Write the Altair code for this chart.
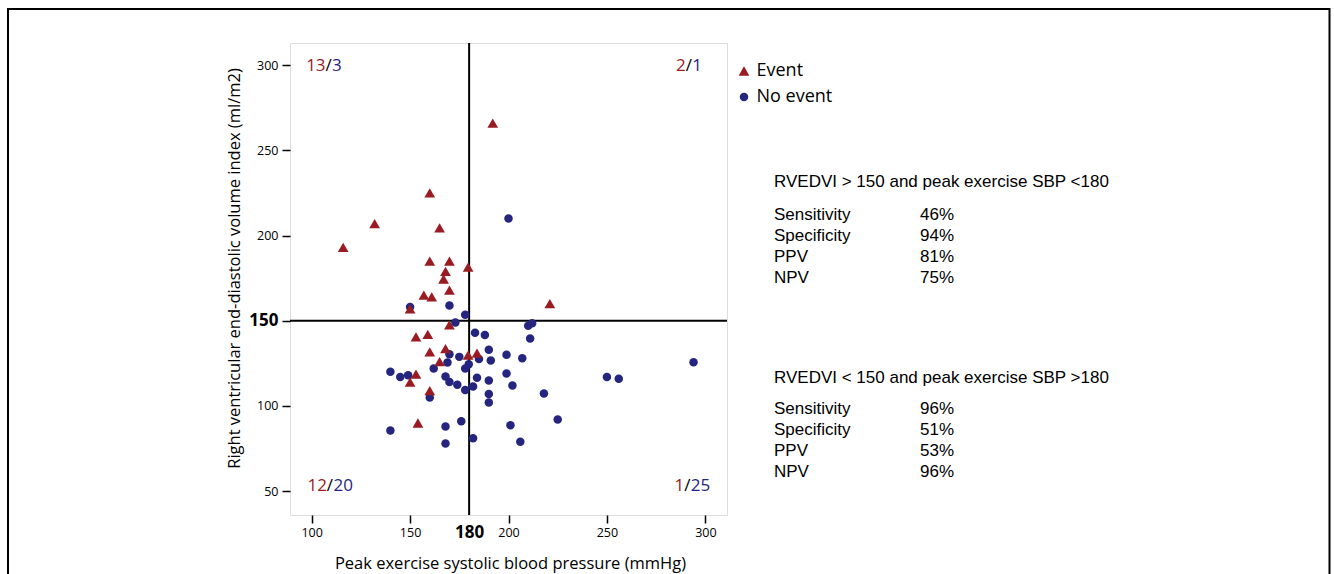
import altair as alt
import pandas as pd

# ---------------- data ----------------
event_sbp = [160, 192, 132, 165, 116, 160, 170, 179.5, 168, 167, 170, 221, 157, 161, 150,
             170, 153, 159, 160, 168, 179.5, 184, 165, 153, 150, 160, 154]
event_rvedvi = [225, 266, 207, 204.5, 193, 185, 185, 181.5, 179, 174.5, 168, 160, 165, 164, 157,
                147.6, 140.5, 142, 131.7, 133.7, 129.8, 131, 126, 118.7, 114, 109, 90]

noevent_sbp = [170, 150, 178, 200,
               210, 212, 211, 183, 188, 185, 190, 191, 199, 207, 294, 182, 184, 190, 190, 190,
               199, 202, 218, 250, 256, 225, 201, 182, 206,
               173, 170, 175, 169, 162, 179.8, 178, 140, 145, 149, 168, 170, 174, 178, 160,
               140, 168, 176, 168]
noevent_rvedvi = [159, 158, 153.5, 210,
                  147, 148.5, 139.6, 143, 141.7, 127.6, 133, 126.7, 130, 128, 125.7, 111.4, 116.5, 115, 107, 102,
                  119, 112, 107.3, 117, 116, 92, 88.7, 81, 79,
                  149, 130.4, 128.8, 125.5, 122, 124.5, 122, 120, 117, 118, 117.3, 114, 112.4, 109.4, 105,
                  85.6, 88, 91, 78]

group_names = ["Event", "No event"]
x_ticks = [100, 150, 180, 200, 250, 300]
y_ticks = [50, 100, 150, 200, 250, 300]
sbp_cut = 180
rvedvi_cut = 150

quadrant_event = ["13", "2", "12", "1"]
quadrant_noevent = ["3", "1", "20", "25"]

stat_names = ["Sensitivity", "Specificity", "PPV", "NPV"]
block_titles = ["RVEDVI > 150 and peak exercise SBP <180",
                "RVEDVI < 150 and peak exercise SBP >180"]
block1_vals = ["46%", "94%", "81%", "75%"]
block2_vals = ["96%", "51%", "53%", "96%"]

# ---------------- styling ----------------
RED = "#9b1b22"
BLUE = "#25257f"
AXFONT = "Open Sans"
TXTFONT = "Liberation Sans"
W, H = 437, 472
PAD_L, PAD_T = 290, 43

df = pd.DataFrame({
    "sbp": noevent_sbp + event_sbp,
    "rvedvi": noevent_rvedvi + event_rvedvi,
    "group": ["No event"] * len(noevent_sbp) + ["Event"] * len(event_sbp),
})

xscale = alt.Scale(domain=[89, 311], nice=False, zero=False)
yscale = alt.Scale(domain=[36, 313], nice=False, zero=False)

x_axis = alt.Axis(
    values=x_ticks, title="Peak exercise systolic blood pressure (mmHg)",
    domain=False, grid=False, tickColor="black", tickSize=8, tickWidth=1.5,
    tickOpacity={"condition": {"test": f"datum.value == {sbp_cut}", "value": 0}, "value": 1},
    labelFontSize={"condition": {"test": f"datum.value == {sbp_cut}", "value": 17}, "value": 12.5},
    labelFontWeight={"condition": {"test": f"datum.value == {sbp_cut}", "value": "bold"}, "value": "normal"},
    labelFont=AXFONT, labelColor="black", labelBaseline="middle", labelPadding=9.5,
    labelOverlap=False, labelFlush=False,
    titleFont=AXFONT, titleFontSize=16.5, titleFontWeight="normal", titleColor="black",
    titleX=220, titleY=48, titleBaseline="middle",
)
y_axis = alt.Axis(
    values=y_ticks, title="Right ventricular end-diastolic volume index (ml/m2)",
    domain=False, grid=False, tickColor="black", tickSize=8, tickWidth=1.5,
    labelFontSize={"condition": {"test": f"datum.value == {rvedvi_cut}", "value": 17}, "value": 12.5},
    labelFontWeight={"condition": {"test": f"datum.value == {rvedvi_cut}", "value": "bold"}, "value": "normal"},
    labelFont=AXFONT, labelColor="black", labelPadding=4,
    labelOverlap=False, labelFlush=False,
    titleFont=AXFONT, titleFontSize=16.5, titleFontWeight="normal", titleColor="black",
    titleX=-56, titleY=225, titleBaseline="middle",
)

leg = dict(orient="none", legendX=445, legendY=19, title=None,
           labelFont=AXFONT, labelFontSize=18, labelColor="black",
           labelOffset=3.5, rowPadding=8, symbolStrokeWidth=0)

points = alt.Chart(df).mark_point(filled=True, opacity=1, strokeWidth=0).encode(
    x=alt.X("sbp:Q", scale=xscale, axis=x_axis),
    y=alt.Y("rvedvi:Q", scale=yscale, axis=y_axis),
    color=alt.Color("group:N", scale=alt.Scale(domain=group_names, range=[RED, BLUE]),
                    legend=alt.Legend(**leg)),
    shape=alt.Shape("group:N", scale=alt.Scale(domain=group_names, range=["triangle-up", "circle"]),
                    legend=alt.Legend(**leg)),
    size=alt.Size("group:N", scale=alt.Scale(domain=group_names, range=[115, 72]),
                  legend=alt.Legend(**leg)),
)

vline = alt.Chart().mark_rule(color="black", strokeWidth=2).encode(x=alt.datum(sbp_cut))
hline = alt.Chart().mark_rule(color="black", strokeWidth=2).encode(y=alt.datum(rvedvi_cut))

# quadrant count labels (UL, UR, LL, LR)
qdf = pd.DataFrame({
    "sbp": [108.6, 291.6, 109.3, 290.8],
    "rvedvi": [299.4, 299.4, 52.9, 52.9],
    "ev": quadrant_event,
    "ne": quadrant_noevent,
    "slash": ["/"] * 4,
})
qbase = alt.Chart(qdf).encode(x="sbp:Q", y="rvedvi:Q")
q_ev = qbase.mark_text(font=AXFONT, fontSize=17, color=RED, align="right", baseline="middle", dx=-3).encode(text="ev:N")
q_sl = qbase.mark_text(font=AXFONT, fontSize=17, color="black", align="center", baseline="middle").encode(text="slash:N")
q_ne = qbase.mark_text(font=AXFONT, fontSize=17, color=BLUE, align="left", baseline="middle", dx=3.5).encode(text="ne:N")

# frame around the whole figure
frame = alt.Chart().mark_rect(fillOpacity=0, stroke="black", strokeWidth=2).encode(
    x=alt.value(8 - PAD_L), x2=alt.value(1329.5 - PAD_L),
    y=alt.value(9 - PAD_T), y2=alt.value(620 - PAD_T),
)

# side panel statistics
side = []
blocks = [(block_titles[0], block1_vals, 181, [213.5, 234.5, 255.5, 276.5]),
          (block_titles[1], block2_vals, 377, [408, 429, 450, 471])]
for title, vals, ty, rows in blocks:
    side.append(alt.Chart().mark_text(font=TXTFONT, fontSize=17, color="black", align="left",
                                      baseline="middle").encode(
        x=alt.value(774 - PAD_L), y=alt.value(ty + 1 - PAD_T), text=alt.value(title)))
    for name, v, ry in zip(stat_names, vals, rows):
        side.append(alt.Chart().mark_text(font=TXTFONT, fontSize=17, color="black", align="left",
                                          baseline="middle").encode(
            x=alt.value(774 - PAD_L), y=alt.value(ry + 1 - PAD_T), text=alt.value(name)))
        side.append(alt.Chart().mark_text(font=TXTFONT, fontSize=17, color="black", align="left",
                                          baseline="middle").encode(
            x=alt.value(920 - PAD_L), y=alt.value(ry + 1 - PAD_T), text=alt.value(v)))

chart = alt.layer(frame, vline, hline, points, q_ev, q_sl, q_ne, *side).properties(
    width=W, height=H,
    autosize=alt.AutoSizeParams(type="none"),
    padding={"left": PAD_L, "top": PAD_T, "right": 1334 - PAD_L - W, "bottom": 574 - PAD_T - H},
).configure_view(stroke="black", strokeWidth=1.5).configure(background="white")

chart.save("out.html", embed_options={"renderer": "svg", "actions": False})
